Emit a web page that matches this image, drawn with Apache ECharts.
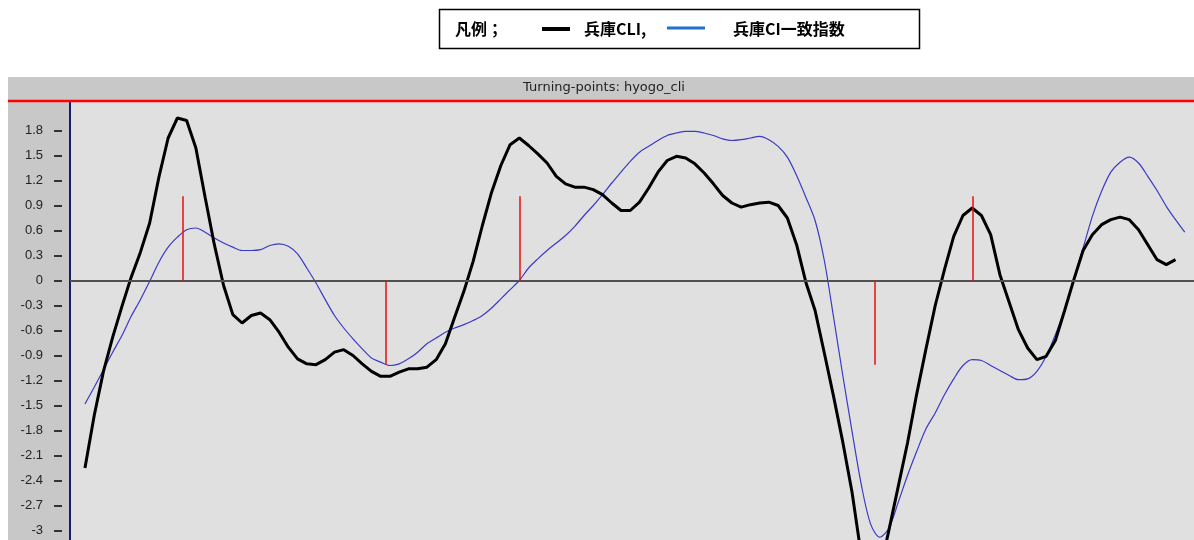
<!DOCTYPE html>
<html><head><meta charset="utf-8">
<script src="https://cdn.jsdelivr.net/npm/echarts@6/dist/echarts.min.js"></script>
<style>html,body{margin:0;padding:0;background:#fff}#c{width:1194px;height:540px}</style>
</head><body><div id="c"></div>
<script>
// 兵庫CLI (black)
const cli = [-2.25,-1.62,-1.09,-0.68,-0.31,0.04,0.34,0.69,1.24,1.71,1.95,1.92,1.59,1.00,0.43,-0.06,-0.41,-0.51,-0.42,-0.39,
-0.47,-0.62,-0.80,-0.94,-1.00,-1.01,-0.95,-0.86,-0.83,-0.90,-1.00,-1.09,-1.15,-1.15,-1.10,-1.06,-1.06,-1.04,-0.95,
-0.76,-0.44,-0.13,0.23,0.66,1.06,1.38,1.63,1.71,1.62,1.52,1.41,1.25,1.16,1.12,1.12,1.09,1.03,0.93,0.84,
0.84,0.94,1.11,1.30,1.44,1.49,1.47,1.40,1.29,1.16,1.02,0.93,0.88,0.91,0.93,0.94,0.90,0.75,0.43,-0.02,
-0.36,-0.87,-1.39,-1.94,-2.54,-3.3,-3.65,-3.5,-2.99,-2.47,-1.95,-1.36,-0.82,-0.30,0.13,0.53,0.78,0.87,0.78,0.55,
0.07,-0.26,-0.59,-0.81,-0.95,-0.91,-0.72,-0.36,0.01,0.36,0.55,0.67,0.73,0.76,0.73,0.61,0.43,0.25,0.19,0.25];
// 兵庫CI一致指数 (blue)
const ci = [-1.48,-1.28,-1.07,-0.86,-0.66,-0.43,-0.23,-0.01,0.22,0.40,0.52,0.61,0.63,0.58,0.51,0.45,0.40,0.36,0.36,0.37,
0.42,0.44,0.41,0.32,0.15,-0.03,-0.23,-0.42,-0.57,-0.70,-0.82,-0.93,-0.98,-1.02,-1.00,-0.94,-0.86,-0.76,-0.69,
-0.62,-0.57,-0.53,-0.48,-0.42,-0.33,-0.22,-0.11,0.00,0.15,0.26,0.36,0.45,0.54,0.65,0.78,0.90,1.03,1.17,1.30,
1.43,1.54,1.61,1.68,1.74,1.77,1.79,1.79,1.77,1.74,1.70,1.68,1.69,1.71,1.73,1.69,1.61,1.48,1.26,1.00,
0.72,0.24,-0.44,-1.14,-1.81,-2.45,-2.92,-3.08,-2.97,-2.66,-2.34,-2.05,-1.78,-1.59,-1.37,-1.18,-1.02,-0.95,-0.96,-1.02,
-1.08,-1.14,-1.19,-1.18,-1.09,-0.91,-0.65,-0.35,0.02,0.39,0.77,1.07,1.30,1.42,1.48,1.41,1.25,1.08,0.89,0.73,0.58];
// turning points (position on the time index) and marker extent
const tpIndex = [10.53, 32.5, 47.0, 85.46, 96.03];
const tpExtent = [1.01, -1.01, 1.01, -1.01, 1.01];
const titleText = 'Turning-points: hyogo_cli';

const chart = echarts.init(document.getElementById('c'), null, {renderer:'canvas'});
const turnLines = tpIndex.map((x,k)=>[{coord:[x,0]},{coord:[x,tpExtent[k]]}]);
const option = {
  animation:false,
  backgroundColor:'#c8c8c8',
  grid:[
    {left:70,width:1124,top:102,height:453.5,show:true,backgroundColor:'#e0e0e0',borderWidth:0,outerBoundsMode:'none',containLabel:false},
    {left:62,width:4,top:130.5,height:425,show:false,outerBoundsMode:'none',containLabel:false}
  ],
  xAxis:[
    {type:'value',gridIndex:0,min:-1.62,max:120,show:false},
    {type:'value',gridIndex:1,min:0,max:1,show:false}
  ],
  yAxis:[
    {type:'value',gridIndex:0,min:-3.3,max:2.142,
      axisLine:{show:true,onZero:false,lineStyle:{color:'#1b1b6b',width:2}},
      axisTick:{show:false},axisLabel:{show:false},splitLine:{show:false}},
    {type:'value',gridIndex:1,min:-3.3,max:1.8,interval:0.3,
      axisLine:{show:false,onZero:false},
      axisTick:{show:true,length:8,lineStyle:{color:'#333',width:2}},
      axisLabel:{margin:19,color:'#222',fontSize:13,fontFamily:'Liberation Sans'},
      splitLine:{show:false}}
  ],
  series:[
    {name:'ref',type:'line',xAxisIndex:0,yAxisIndex:0,data:[],z:1,silent:true,
      markLine:{silent:true,symbol:['none','none'],label:{show:false},animation:false,
        data:[{yAxis:0,lineStyle:{color:'#505050',width:2,type:'solid'}}]}},
    {name:'turn',type:'line',xAxisIndex:0,yAxisIndex:0,data:[],z:2,silent:true,
      markLine:{silent:true,symbol:['none','none'],label:{show:false},animation:false,
        lineStyle:{color:'#e81010',width:1.5,type:'solid'},data:turnLines}},
    {name:'兵庫CI一致指数',type:'line',xAxisIndex:0,yAxisIndex:0,
      data:ci.map((v,i)=>[i,v]),symbol:'none',smooth:0.3,
      lineStyle:{color:'#3a3ac6',width:1.2},z:3},
    {name:'兵庫CLI',type:'line',xAxisIndex:0,yAxisIndex:0,
      data:cli.map((v,i)=>[i,v]),symbol:'none',
      lineStyle:{color:'#000',width:3},z:4}
  ],
  graphic:[
    {type:'rect',silent:true,z:0,shape:{x:0,y:0,width:1194,height:77},style:{fill:'#fff'}},
    {type:'rect',silent:true,z:0,shape:{x:0,y:77,width:8,height:463},style:{fill:'#fff'}},
    {type:'rect',silent:true,z:1,shape:{x:439.5,y:9.5,width:480,height:39},style:{fill:'#fff',stroke:'#000',lineWidth:1.5}},
    {type:'text',silent:true,z:2,x:455,y:29,style:{text:'凡例；',font:'bold 16px "Noto Sans CJK JP"',fill:'#000',verticalAlign:'middle',textVerticalAlign:'middle'}},
    {type:'line',silent:true,z:2,shape:{x1:542,y1:29,x2:570,y2:29},style:{stroke:'#000',lineWidth:4}},
    {type:'text',silent:true,z:2,x:584,y:29,style:{text:'兵庫CLI,',font:'bold 16px "Noto Sans CJK JP"',fill:'#000',verticalAlign:'middle',textVerticalAlign:'middle'}},
    {type:'line',silent:true,z:2,shape:{x1:667,y1:28,x2:705,y2:28},style:{stroke:'#1f72c6',lineWidth:3}},
    {type:'text',silent:true,z:2,x:733,y:29,style:{text:'兵庫CI一致指数',font:'bold 16px "Noto Sans CJK JP"',fill:'#000',verticalAlign:'middle',textVerticalAlign:'middle'}},
    {type:'text',silent:true,z:5,x:604,y:88,style:{text:titleText,font:'13px "DejaVu Sans"',fill:'#222',align:'center',textAlign:'center',verticalAlign:'middle',textVerticalAlign:'middle'}},
    {type:'line',silent:true,z:100,shape:{x1:8,y1:101,x2:1194,y2:101},style:{stroke:'#ff0000',lineWidth:2.5}}
  ]
};
chart.setOption(option);
</script></body></html>
